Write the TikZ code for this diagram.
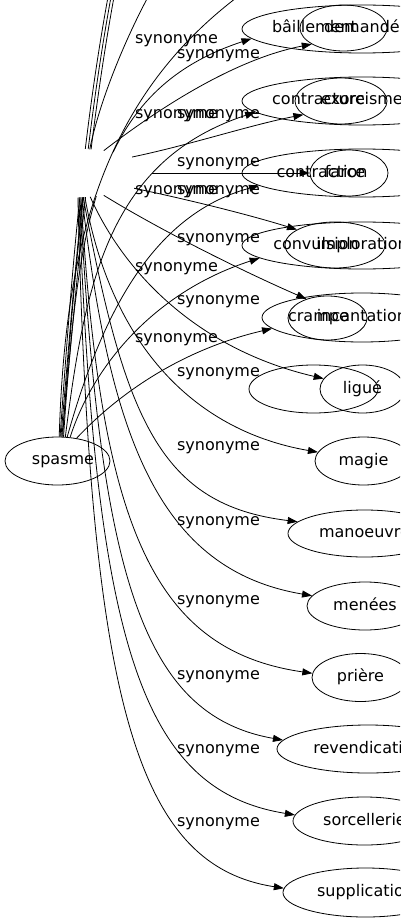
\documentclass[tikz,border=0pt]{standalone}
\usepackage{fontspec}
\setmainfont{DejaVu Sans}
\usetikzlibrary{shapes.geometric,arrows.meta}
\begin{document}
\begin{tikzpicture}[x=1pt,y=-1pt,
  ell/.style={ellipse,draw,line width=0.8pt,inner sep=0pt},
  word/.style={font=\fontsize{16}{19}\selectfont,inner sep=0pt,text height=11.5pt,text depth=3.5pt},
  lab/.style={word},
  edge/.style={draw,line width=0.8pt,-{Triangle[length=10pt,width=7pt]}},
  plain/.style={draw,line width=0.8pt}]
\useasboundingbox (0,0) rectangle (400,923);
\clip (0,0) rectangle (400,923);

% source
\node[ell,minimum width=105pt,minimum height=48pt] (sp) at (57.5,461) {};

% outer ellipses (left words)
\node[ell,minimum width=240pt,minimum height=48pt] (a1) at (362,29) {};
\node[ell,minimum width=240pt,minimum height=48pt] (a2) at (362,101) {};
\node[ell,minimum width=240pt,minimum height=48pt] (a3) at (362,173) {};
\node[ell,minimum width=240pt,minimum height=47pt] (a4) at (362,245.5) {};
\node[ell,minimum width=200pt,minimum height=49pt] (a5) at (362,317.5) {};
\node[ell,minimum width=129pt,minimum height=48pt] (r6) at (313.5,389) {};

% inner ellipses
\node[ell,minimum width=87pt,minimum height=46pt] (b1) at (343.5,28) {};
\node[ell,minimum width=92pt,minimum height=46pt] (b2) at (341,101) {};
\node[ell,minimum width=78pt,minimum height=46pt] (b3) at (349,173) {};
\node[ell,minimum width=100pt,minimum height=46pt] (b4) at (335,245) {};
\node[ell,minimum width=79pt,minimum height=44pt] (b5) at (327.5,318) {};
\node[ell,minimum width=85pt,minimum height=48pt] (b6) at (362.5,389) {};

% lower nodes
\node[ell,minimum width=97pt,minimum height=48pt] (b7) at (363.5,461) {};
\node[ell,minimum width=153pt,minimum height=47pt] (b8) at (364.5,533.5) {};
\node[ell,minimum width=116pt,minimum height=48pt] (b9) at (365,606) {};
\node[ell,minimum width=97pt,minimum height=48pt] (b10) at (360.5,677.5) {};
\node[ell,minimum width=182pt,minimum height=48pt] (b11) at (368,749) {};
\node[ell,minimum width=143pt,minimum height=48pt] (b12) at (364.5,821) {};
\node[ell,minimum width=165pt,minimum height=49pt] (b13) at (365.5,892.5) {};

% free ends above the picture
\coordinate (u1) at (108,-3);
\coordinate (u2) at (111,-3);
\coordinate (u3) at (114,-3);
\coordinate (k4) at (90,148);
\coordinate (u4) at (148,-3);
\coordinate (u5) at (240,-5);

% edges passing under the hidden node
\draw[plain] (sp.84) .. controls (70,300) and (80,150) .. (u1);
\draw[plain] (sp.82) .. controls (73,300) and (83,150) .. (u2);
\draw[plain] (sp.80) .. controls (76,300) and (86,150) .. (u3);
\draw[plain] (sp.78) .. controls (72,300) and (82,200) .. (k4) .. controls (100,100) and (125,40) .. (u4);
\draw[edge] (sp.76) .. controls (78,220) and (95,90) .. (a1.185);

% hidden white node
\node[ellipse,fill=white,draw=none,inner sep=0pt,minimum width=168pt,minimum height=49pt] (hub) at (68,173) {};

% visible edges from spasme
\draw[plain] (sp.86) .. controls (65,250) and (100,100) .. (u5);
\draw[edge] (sp.72) .. controls (85,280) and (110,160) .. (a2.186);
\draw[edge] (sp.68) .. controls (100,320) and (150,215) .. (a3.187.6);
\draw[edge] (sp.62) .. controls (95,360) and (160,290) .. (a4.187.7);
\draw[edge] (sp.50) .. controls (117,395) and (180,350) .. (a5.187.5);

% edges from the hidden node
\draw[edge] (hub.32) .. controls (150,115) and (230,60) .. (b1.207);
\draw[edge] (hub.14) .. controls (190,145) and (250,125) .. (b2.200);
\draw[edge] (hub.east) -- (b3.west);
\draw[edge] (hub.-13) .. controls (190,200) and (250,215) .. (b4.158);
\draw[edge] (hub.-32) .. controls (160,230) and (240,270) .. (b5.138);
\draw[edge] (hub.-47) .. controls (125,275) and (200,350) .. (b6.165.5);
\draw[edge] (hub.-55) .. controls (110,340) and (190,430) .. (b7.169.5);
\draw[edge] (hub.-58) .. controls (125,420) and (160,505) .. (b8.170);
\draw[edge] (hub.-60) .. controls (110,440) and (160,570) .. (b9.169.6);
\draw[edge] (hub.-62) .. controls (100,520) and (150,650) .. (b10.175);
\draw[edge] (hub.-64) .. controls (100,570) and (140,715) .. (b11.174);
\draw[edge] (hub.-66) .. controls (95,640) and (140,790) .. (b12.175);
\draw[edge] (hub.-68) .. controls (90,700) and (135,865) .. (b13.177);

% node texts
\node[word] (tsp) at (63,460) {spasme};
\node[word] (t1a) at (314.5,29) {bâillement};
\node[word] (t1b) at (362,29) {demandé};
\node[word] (t2a) at (318.5,101) {contracture};
\node[word] (t2b) at (362,101) {exorcisme};
\node[word] (t3a) at (322,173) {contraction};
\node[word] (t3b) at (345,173) {farce};
\node[word] (t4a) at (316,245) {convulsion};
\node[word] (t4b) at (362,245) {imploration};
\node[word] (t5a) at (318.5,317) {crampe};
\node[word] (t5b) at (362,317) {incantation};
\node[word] (t6) at (362.5,389) {ligué};
\node[word] (t7) at (363.5,461) {magie};
\node[word] (t8) at (364.5,533.5) {manoeuvre};
\node[word] (t9) at (365,606) {menées};
\node[word] (t10) at (360.5,677.5) {prière};
\node[word] (t11) at (368,749) {revendication};
\node[word] (t12) at (364.5,821) {sorcellerie};
\node[word] (t13) at (365.5,892.5) {supplication};

% edge labels
\node[lab] (la1) at (176.5,40) {synonyme};
\node[lab] (la2) at (176.5,114.5) {synonyme};
\node[lab] (la3) at (176.5,190.5) {synonyme};
\node[lab] (la4) at (176.5,267.5) {synonyme};
\node[lab] (la5) at (176.5,338.5) {synonyme};
\node[lab] (lb1) at (218.5,54.5) {synonyme};
\node[lab] (lb2) at (218.5,114.5) {synonyme};
\node[lab] (lb3) at (218.5,162.5) {synonyme};
\node[lab] (lb4) at (218.5,190.5) {synonyme};
\node[lab] (lb5) at (218.5,238.5) {synonyme};
\node[lab] (lb6) at (218.5,300) {synonyme};
\node[lab] (lb7) at (218.5,372.5) {synonyme};
\node[lab] (lb8) at (218.5,446.5) {synonyme};
\node[lab] (lb9) at (218.5,521.5) {synonyme};
\node[lab] (lb10) at (218.5,600) {synonyme};
\node[lab] (lb11) at (218.5,675) {synonyme};
\node[lab] (lb12) at (218.5,749.5) {synonyme};
\node[lab] (lb13) at (218.5,822.5) {synonyme};
\end{tikzpicture}
\end{document}
